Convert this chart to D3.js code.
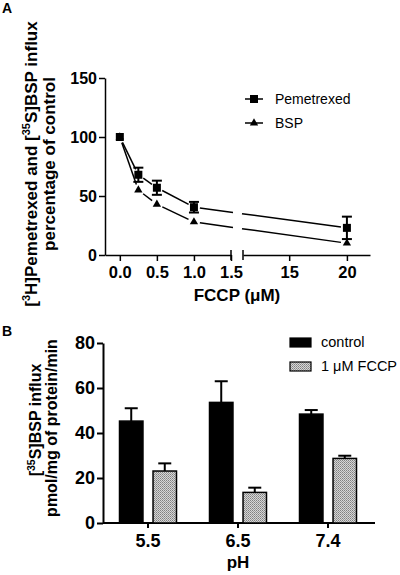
<!DOCTYPE html>
<html><head><meta charset="utf-8">
<script src="https://cdn.jsdelivr.net/npm/d3@7"></script>
<style>
html,body{margin:0;padding:0;background:#fff;}
svg{display:block;font-family:Arial,"Liberation Sans",Helvetica,sans-serif;}
</style></head>
<body><svg id="c" width="400" height="575"></svg>
<script>
// ---------- Panel A data ----------
const concA = [0, 0.25, 0.5, 1.0, 20];
const pemetrexed = [100, 68, 57, 40.5, 23];
const pemetrexedErr = [0, 6, 6, 4.5, 9.5];
const bsp = [100, 55, 43, 28, 10];
const xTicksLowA = [0, 0.5, 1.0, 1.5];
const xTickLabelsLowA = ["0.0", "0.5", "1.0", "1.5"];
const xTicksHighA = [15, 20];
const yTicksA = [0, 50, 100, 150];
const seriesNamesA = ["Pemetrexed", "BSP"];

// ---------- Panel B data ----------
const pH = ["5.5", "6.5", "7.4"];
const control = [45.3, 53.6, 48.4];
const controlErr = [5.7, 9.4, 1.8];
const fccp = [23.1, 13.6, 28.7];
const fccpErr = [3.4, 2.1, 1.2];
const yTicksB = [0, 20, 40, 60, 80];
const seriesNamesB = ["control", "1 \u03BCM FCCP"];

const svg = d3.select("#c");
const defs = svg.append("defs");
const pat = defs.append("pattern").attr("id","hatch").attr("patternUnits","userSpaceOnUse")
  .attr("width",2).attr("height",2);
pat.append("rect").attr("width",2).attr("height",2).attr("fill","#d6d6d6");
pat.append("rect").attr("x",0).attr("y",0).attr("width",1).attr("height",1).attr("fill","#808080");
pat.append("rect").attr("x",1).attr("y",1).attr("width",1).attr("height",1).attr("fill","#9a9a9a");

// ================= PANEL A =================
const gA = svg.append("g");
const yA = d3.scaleLinear().domain([0,150]).range([255,78]);
const xLow = d3.scaleLinear().domain([-0.2,1.5]).range([105,231]);
const xHigh = d3.scaleLinear().domain([11,22]).range([243,370]);
const xA = v => v <= 1.5 ? xLow(v) : xHigh(v);

const yAxA = gA.append("g").attr("transform","translate(105,0)")
  .call(d3.axisLeft(yA).tickValues(yTicksA).tickSize(6).tickSizeOuter(0).tickPadding(2));
yAxA.selectAll("text").attr("font-size",16).attr("font-weight","bold").attr("fill","#000");
const xAxLow = gA.append("g").attr("transform","translate(0,255)")
  .call(d3.axisBottom(xLow).tickValues(xTicksLowA).tickFormat((d,i)=>xTickLabelsLowA[i]).tickSize(6).tickSizeOuter(0).tickPadding(5));
const xAxHigh = gA.append("g").attr("transform","translate(0,255)")
  .call(d3.axisBottom(xHigh).tickValues(xTicksHighA).tickSize(6).tickSizeOuter(0).tickPadding(5));
[xAxLow, xAxHigh].forEach(a=>a.selectAll("text").attr("font-size",16.5).attr("font-weight","bold").attr("fill","#000"));
gA.selectAll(".domain, .tick line").attr("stroke","#000").attr("stroke-width",1.5);
[xLow.range()[1], xHigh.range()[0]].forEach(x=>{
  gA.append("line").attr("x1",x).attr("x2",x).attr("y1",250).attr("y2",260).attr("stroke","#000").attr("stroke-width",1.5);
});

function drawSeries(vals){
  const pts = concA.map((c,i)=>[xA(c), yA(vals[i])]);
  const gap = 6;
  for(let i=0;i<pts.length-1;i++){
    const [x1,y1]=pts[i], [x2,y2]=pts[i+1];
    const len=Math.hypot(x2-x1,y2-y1);
    const ux=(x2-x1)/len, uy=(y2-y1)/len;
    const a=[x1+ux*gap,y1+uy*gap], b=[x2-ux*gap,y2-uy*gap];
    const segs=[];
    const bL=xLow.range()[1]+2, bR=xHigh.range()[0]-1;
    if(a[0]<bL && b[0]>bR){
      const t1=(bL-x1)/(x2-x1), t2=(bR-x1)/(x2-x1);
      segs.push([a,[bL,y1+(y2-y1)*t1]]);
      segs.push([[bR,y1+(y2-y1)*t2],b]);
    } else segs.push([a,b]);
    segs.forEach(s=>gA.append("path").attr("d",d3.line()(s)).attr("stroke","#000").attr("stroke-width",1.5).attr("fill","none"));
  }
}
drawSeries(pemetrexed);
drawSeries(bsp);

concA.forEach((c,i)=>{
  const e=pemetrexedErr[i]; if(!e) return;
  const x=xA(c), t=yA(pemetrexed[i]+e), b=yA(pemetrexed[i]-e);
  gA.append("line").attr("x1",x).attr("x2",x).attr("y1",t).attr("y2",b).attr("stroke","#000").attr("stroke-width",2);
  [t,b].forEach(y=>gA.append("line").attr("x1",x-5).attr("x2",x+5).attr("y1",y).attr("y2",y).attr("stroke","#000").attr("stroke-width",2));
});
const tri = d3.symbol().type(d3.symbolTriangle).size(30);
concA.forEach((c,i)=>{
  gA.append("path").attr("d",tri()).attr("transform",`translate(${xA(c)},${yA(bsp[i])})`).attr("fill","#000");
});
concA.forEach((c,i)=>{
  gA.append("rect").attr("x",xA(c)-4).attr("y",yA(pemetrexed[i])-4).attr("width",8).attr("height",8).attr("fill","#000");
});

const legA = gA.append("g");
[99,123].forEach((y,i)=>{
  legA.append("line").attr("x1",245).attr("x2",263).attr("y1",y).attr("y2",y).attr("stroke","#000").attr("stroke-width",1.5);
  if(i===0) legA.append("rect").attr("x",250).attr("y",y-4).attr("width",8).attr("height",8).attr("fill","#000");
  else legA.append("path").attr("d",tri()).attr("transform",`translate(254,${y})`).attr("fill","#000");
  legA.append("text").attr("x",275).attr("y",y+5).attr("font-size",14).text(seriesNamesA[i]);
});

gA.append("text").attr("x",2).attr("y",13).attr("font-size",14).attr("font-weight","bold").text("A");
gA.append("text").attr("x",237).attr("y",301).attr("text-anchor","middle").attr("font-size",17).attr("font-weight","bold").text("FCCP (\u03BCM)");
const ytA = gA.append("text").attr("transform","translate(37,164) rotate(-90)").attr("text-anchor","middle")
  .attr("font-size",17).attr("font-weight","bold");
ytA.append("tspan").text("[");
ytA.append("tspan").attr("dy",-7).attr("font-size",11).text("3");
ytA.append("tspan").attr("dy",7).text("H]Pemetrexed and [");
ytA.append("tspan").attr("dy",-7).attr("font-size",11).text("35");
ytA.append("tspan").attr("dy",7).text("S]BSP influx");
gA.append("text").attr("transform","translate(55,164) rotate(-90)").attr("text-anchor","middle")
  .attr("font-size",17).attr("font-weight","bold").text("percentage of control");

// ================= PANEL B =================
const gB = svg.append("g");
const yB = d3.scaleLinear().domain([0,80]).range([523,343]);
const xB = d3.scaleBand().domain(pH).range([103,373]);
const xSub = d3.scaleBand().domain(["control","fccp"]).range([16.5,73.5]).paddingInner(0.3);

const yAxB = gB.append("g").attr("transform","translate(103,0)")
  .call(d3.axisLeft(yB).tickValues(yTicksB).tickSize(6).tickSizeOuter(0).tickPadding(2));
yAxB.selectAll("text").attr("font-size",18).attr("font-weight","bold").attr("fill","#000");
const xAxB = gB.append("g").attr("transform","translate(0,523)")
  .call(d3.axisBottom(xB).tickSize(5).tickSizeOuter(0).tickPadding(6));
xAxB.select(".domain").remove();
xAxB.selectAll("text").attr("font-size",18).attr("font-weight","bold").attr("fill","#000");
gB.append("line").attr("x1",103).attr("x2",375).attr("y1",523).attr("y2",523).attr("stroke","#000").attr("stroke-width",2);
gB.selectAll(".domain, .tick line").attr("stroke","#000").attr("stroke-width",2);

function bars(vals, errs, key, fill){
  pH.forEach((p,i)=>{
    const x = xB(p)+xSub(key), w = xSub.bandwidth();
    const cx = x + w/2, top = yB(vals[i]), et = yB(vals[i]+errs[i]);
    gB.append("line").attr("x1",cx).attr("x2",cx).attr("y1",top).attr("y2",et).attr("stroke","#000").attr("stroke-width",2);
    gB.append("line").attr("x1",cx-6.5).attr("x2",cx+6.5).attr("y1",et).attr("y2",et).attr("stroke","#000").attr("stroke-width",2);
    gB.append("rect").attr("x",x).attr("y",top).attr("width",w).attr("height",yB(0)-top)
      .attr("fill",fill).attr("stroke","#000").attr("stroke-width",1.5);
  });
}
bars(control, controlErr, "control", "#000");
bars(fccp, fccpErr, "fccp", "url(#hatch)");

[[338,"#000"],[362,"url(#hatch)"]].forEach(([y,f],i)=>{
  gB.append("rect").attr("x",290).attr("y",y).attr("width",21).attr("height",9).attr("fill",f).attr("stroke","#000").attr("stroke-width",1.2);
  gB.append("text").attr("x",321).attr("y",y+9).attr("font-size",14.5).text(seriesNamesB[i]);
});

gB.append("text").attr("x",2).attr("y",336).attr("font-size",14).attr("font-weight","bold").text("B");
gB.append("text").attr("x",238).attr("y",568).attr("text-anchor","middle").attr("font-size",17).attr("font-weight","bold").text("pH");
const ytB = gB.append("text").attr("transform","translate(41,420) rotate(-90)").attr("text-anchor","middle")
  .attr("font-size",16).attr("font-weight","bold");
ytB.append("tspan").text("[");
ytB.append("tspan").attr("dy",-6).attr("font-size",10.5).text("35");
ytB.append("tspan").attr("dy",6).text("S]BSP influx");
gB.append("text").attr("transform","translate(57,428) rotate(-90)").attr("text-anchor","middle")
  .attr("font-size",16).attr("font-weight","bold").text("pmol/mg of protein/min");
</script></body></html>
